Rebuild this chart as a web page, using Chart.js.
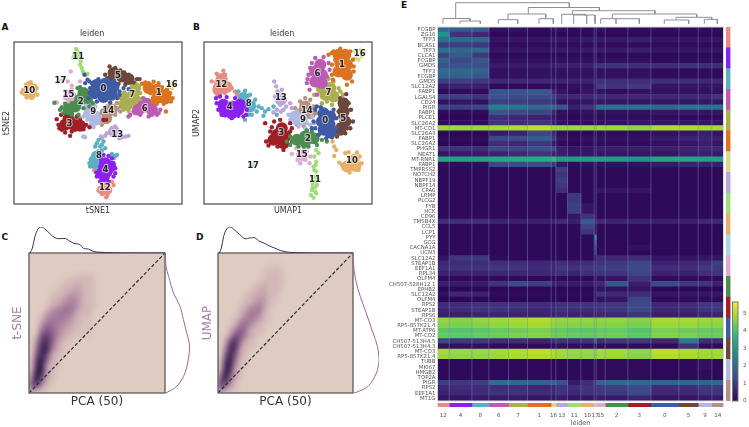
<!DOCTYPE html>
<html>
<head>
<meta charset="utf-8">
<title>leiden</title>
<script src="https://cdn.jsdelivr.net/npm/chart.js@4"></script>
<style>
html, body { margin: 0; padding: 0; background: #fff; overflow: hidden; }
#page { position: relative; width: 749px; height: 427px; }
#page canvas { position: absolute; left: 0; top: 0; filter: blur(0.4px); }
.letra { position: absolute; font: bold 9px "DejaVu Sans"; color: #111; }
.densidad { position: absolute; overflow: hidden; background: #dfcbc1; }
#page .densidad canvas { filter: blur(2.4px); }
</style>
</head>
<body>
<div id="page">
  <div class="letra" style="left:1.5px;top:22px">A</div>
  <div class="letra" style="left:193px;top:22px">B</div>
  <div class="letra" style="left:1.5px;top:232px">C</div>
  <div class="letra" style="left:196px;top:232px">D</div>
  <div class="letra" style="left:401px;top:0px">E</div>
</div>
<script>
const leidenColors = ["#3f5ba6","#dc7320","#4b8c50","#a01f26","#8c20ee","#6e463c","#bd5ab4","#aaaf52","#5aafc3","#b0b9e2",
                      "#e8af69","#a0dc78","#e68c82","#b9a5d7","#b49182","#e1aad2","#d7dc8c","#a5d7e6"]
const clusterNames = ["0","1","2","3","4","5","6","7","8","9","10","11","12","13","14","15","16","17"]

// embeddings, in crop units of the panel (x 42-545, y 127-612 going down)
const tsneCore = [
  [[290,255],[315,252],[340,260],[285,280],[310,280],[335,285],[310,292]],
  [[445,265],[470,270],[495,285],[470,295],[495,296]],
  [[250,280],[262,295],[240,300],[225,320],[205,328]],
  [[195,375],[220,375],[205,357],[240,378]],
  [[315,490],[320,515],[305,520],[330,500],[312,528]],
  [[340,220],[365,230],[385,238]],
  [[435,320],[415,330],[455,330],[440,312]],
  [[375,295],[400,285],[380,315],[410,305],[405,265]],
  [[285,488],[290,470]],
  [[270,345],[285,360],[268,322]],
  [[88,270],[87,278],[90,265]],
  [],
  [[315,565]],
  [[342,396]],
  [[315,340],[335,330],[318,355]],
  [[208,288]],
  [],
  []
]
const tsneEdge = [
  [[270,265],[268,280],[350,262],[358,275],[352,295],[295,238],[320,237],[290,305],[330,308],[262,240],[253,225],[255,250],[268,245],[370,265],[385,268],[275,250],[342,243],[358,285],[265,295]],
  [[425,252],[435,248],[460,246],[485,262],[510,280],[517,295],[512,305],[490,312],[470,312],[450,280],[435,268],[497,335],[445,250],[475,250],[500,270],[455,305]],
  [[240,262],[270,275],[283,290],[278,310],[180,330],[190,340],[235,345],[250,325],[163,309],[215,310],[232,265],[185,322],[215,345],[268,320],[195,312]],
  [[175,375],[170,358],[183,345],[215,342],[230,350],[258,375],[268,382],[250,388],[215,395],[195,398],[185,390],[210,408],[200,340],[225,390],[310,360],[318,360],[178,385],[240,362]],
  [[288,518],[290,530],[310,465],[325,468],[340,490],[345,520],[340,530],[300,545],[325,545],[300,500],[335,475],[303,478],[345,505]],
  [[328,200],[345,205],[315,225],[325,235],[360,212],[385,225],[410,238],[400,248],[375,255],[355,252],[418,238],[335,240],[372,218]],
  [[390,345],[400,335],[420,345],[445,350],[470,345],[480,330],[465,312],[430,296],[420,310],[385,350],[405,340],[475,340],[455,345]],
  [[358,290],[358,310],[370,330],[385,333],[420,280],[428,295],[405,250],[415,265],[390,270],[400,325],[372,278],[425,305],[395,262]],
  [[268,490],[272,478],[280,500],[270,500],[295,455],[300,440],[290,430],[310,425],[295,420],[315,445],[335,462],[345,468],[350,465],[340,475],[305,452],[278,470],[292,505],[305,435],[285,440]],
  [[255,340],[250,350],[262,360],[280,382],[295,370],[300,350],[270,310],[285,320],[250,410],[255,412],[290,340],[272,372],[262,322]],
  [[70,270],[65,278],[78,255],[92,247],[105,258],[110,265],[112,285],[100,290],[80,293],[95,295],[72,282],[105,275],[85,250]],
  [[228,148],[222,165],[235,175],[240,195],[248,215],[258,225],[232,155],[220,175],[245,205],[262,222],[228,165],[236,165],[228,175],[242,185],[252,222]],
  [[298,565],[300,575],[310,548],[335,545],[340,555],[330,570],[310,580],[318,592],[305,582],[282,510],[328,575],[295,572],[322,585]],
  [[305,415],[320,400],[335,385],[350,395],[345,405],[365,412],[385,408],[375,410],[330,395],[345,380],[355,400],[358,415],[315,408],[302,410],[250,411]],
  [[300,350],[298,365],[305,375],[320,320],[330,312],[350,310],[362,320],[360,335],[345,345],[325,350],[230,355],[228,358],[240,355],[352,325],[340,340]],
  [[200,275],[215,270],[222,285],[195,295],[205,305],[215,305],[220,298],[203,245],[212,215],[215,258],[240,245],[170,308]],
  [[505,262],[512,250],[520,255],[525,245],[515,265],[510,258]],
  [[180,248],[183,243]]
]
const tsneLabels = [[310,268],[475,278],[242,307],[208,372],[316,510],[353,228],[433,326],[396,286],[296,468],[279,337],[88,273],[234,170],[314,562],[351,404],[324,332],[205,284],[514,255],[181,243]]

const umapCore = [
  [[400,340],[420,350],[395,365],[418,375],[400,390],[420,398]],
  [[445,165],[465,165],[450,190],[470,195],[445,215],[470,225]],
  [[320,420],[345,410],[370,415],[345,425]],
  [[275,385],[260,405],[250,420],[285,410],[280,430]],
  [[100,315],[125,320],[145,330],[105,335],[125,340],[150,315]],
  [[460,310],[460,335],[465,365],[450,390]],
  [[390,195],[375,215],[395,225],[375,245],[395,250]],
  [[420,265],[405,285],[430,290],[395,265]],
  [[160,295],[180,320]],
  [[335,360],[315,350]],
  [[490,480],[470,500],[495,498]],
  [],
  [[90,250],[110,262],[85,270],[95,238]],
  [[272,300]],
  [[345,320],[360,340],[335,340]],
  [[335,465]],
  [],
  []
]
const umapEdge = [
  [[375,330],[380,320],[430,330],[438,355],[440,385],[375,385],[385,405],[408,415],[370,365],[365,385],[392,322],[425,412]],
  [[425,160],[415,165],[430,155],[450,147],[480,155],[488,180],[490,215],[485,245],[470,255],[425,225],[425,195],[435,180],[490,200],[428,240]],
  [[290,425],[300,410],[300,435],[325,440],[350,392],[365,395],[385,405],[395,420],[380,435],[355,440],[410,425],[305,425],[340,440]],
  [[252,365],[270,360],[300,370],[305,385],[240,395],[228,425],[235,437],[262,440],[280,450],[225,370],[300,395],[245,382]],
  [[78,295],[85,330],[95,345],[125,355],[168,345],[160,350],[135,295],[110,292],[90,290],[170,330],[80,310],[145,348]],
  [[450,295],[468,283],[475,310],[482,330],[488,365],[480,385],[465,400],[440,410],[425,410],[445,335],[445,375],[450,350],[430,400],[470,385]],
  [[375,175],[400,172],[415,190],[418,210],[410,230],[355,225],[350,250],[358,270],[380,285],[365,190],[360,205],[352,238]],
  [[415,237],[430,245],[445,265],[458,285],[445,300],[425,315],[395,310],[372,285],[385,270],[450,275],[410,305]],
  [[145,275],[165,273],[180,285],[195,300],[205,320],[215,325],[185,345],[165,360],[200,335],[220,348],[235,328],[225,335],[250,320],[260,345],[145,305],[175,305],[190,310],[175,345]],
  [[305,345],[300,360],[320,335],[345,335],[365,350],[370,370],[345,385],[325,380],[315,370],[360,375],[295,345],[350,370]],
  [[465,460],[475,457],[500,458],[508,470],[514,490],[505,510],[478,518],[455,495],[447,488],[432,440],[432,468],[438,450],[427,425]],
  [[378,450],[385,460],[372,470],[378,485],[370,500],[378,515],[370,530],[380,535],[368,550],[380,555],[365,570],[375,575],[362,585],[370,593],[378,580],[374,545],[374,562],[368,560],[372,510],[376,495]],
  [[80,222],[100,213],[105,225],[65,245],[75,260],[82,285],[105,280],[125,265],[135,275],[140,285],[95,235]],
  [[252,245],[258,260],[262,275],[255,290],[270,315],[285,300],[300,310],[305,325],[260,330],[272,335],[265,280],[275,270],[288,320],[250,338],[280,330]],
  [[330,305],[345,295],[360,300],[370,320],[378,340],[315,325],[310,350],[320,375],[372,370],[340,378]],
  [[318,445],[305,462],[322,480],[330,490],[345,480],[358,490],[350,455],[360,470],[345,445]],
  [[495,175],[502,165],[515,170],[520,155],[510,150],[493,155],[505,180]],
  [[188,498],[190,495]]
]
const umapLabels = [[405,364],[455,195],[353,416],[273,400],[119,321],[459,356],[382,222],[415,278],[176,313],[338,360],[485,484],[374,539],[94,255],[272,295],[350,332],[335,464],[508,162],[189,498]]

// density grids, top row first, columns left to right (missing values at the end of a row are 0)
const densidadC = [
  [],[],[],[],
  [0,0,0,0,0,0,0,0,0,.5,.7,.7,.7,.5],
  [0,0,0,0,0,0,0,.5,.7,1,1,1,1,.5],
  [0,0,0,0,0,0,.5,1,1,1.5,1.5,1,1,.5],
  [0,0,0,0,0,.5,1,1,1.5,2,2,1,1,.5],
  [0,0,0,0,.5,1,1,2,2.5,2.5,2,1,1,.5],
  [0,0,0,0,1,1,2,2.5,3,3,2,1,1,.5],
  [0,0,0,.5,1,2,2.5,3,3.5,3,2,1,1,.5],
  [0,0,0,1,2.5,3,3.5,4,3.5,2.5,1.5,1,1],
  [0,0,.5,2.5,3,3.5,3.5,3.5,3,2,1,1,.7],
  [0,0,1.5,3,3.5,3.5,3.5,3,2.5,1.5,1,.5,.5],
  [0,0,2.5,4,4,3.5,3,2.5,2,1,1,.5,.5],
  [0,.5,3.5,5,4.5,3.5,2.5,2,1.5,1,.5,.5,.5],
  [0,1,5,6,5,3.5,2.5,1.5,1,.5,.3,.3,.3],
  [0,2.5,6,7,5,3,1.5,1,.5,.3],
  [0,3.5,7,8,4.5,2.5,1,.5],
  [0,4,8,8,4,2,1,.5],
  [.5,5,8,6,2,1,.5],
  [1,6,9,5,2,1],
  [1,7,9,3,1,1],
  [2,8,9,3,1,.5],
  [3,9,7,2,1,.5],
  [4,9,5,2,1],
  [5,6,3,1,.5],
  [3,2,1,.5]
]
const densidadD = [
  [],[],
  [0,0,0,0,0,0,0,0,0,0,.3,.5,.5],
  [0,0,0,0,0,0,0,0,0,.5,.7,.7,.7,.5],
  [0,0,0,0,0,0,0,0,0,.5,1,1,1,.5],
  [0,0,0,0,0,0,0,0,.5,1,1,1,1,.5],
  [0,0,0,0,0,0,0,.5,1,1.5,1,1,1,.5],
  [0,0,0,0,0,0,.5,1,1.5,2,1,1,1],
  [0,0,0,0,0,.5,1,1.5,2,2,1,1,.5],
  [0,0,0,0,0,1,1,2,2.5,2.5,1,.5,.5],
  [0,0,0,0,.5,1,2,2.5,3.5,2,1,.5],
  [0,0,0,0,1,2,3,3.5,3.5,2,.5],
  [0,0,0,.5,1,2.5,3.5,3.5,3,1,.5],
  [0,0,0,1,2.5,3.5,3.5,3,2,1,.5],
  [0,0,.5,1.5,3.5,4,3,2,1,.5],
  [0,0,1.5,3.5,4.5,4,2,1,1,.5],
  [0,.5,2.5,5,5,3.5,2,1,.5],
  [0,1.5,5,7,4.5,2,1,.5],
  [0,2.5,7,7,3.5,1,1,.5],
  [0,3.5,8,6.5,2,1,.5],
  [0,5,8,5,2,1],
  [1,6,9,4,1,.5],
  [1,8,8,3,1,.5],
  [2,9,7,2,1],
  [4,9,5,2,1],
  [5,8,4,1,.5],
  [6,5,2,1],
  [3,2,1,.5]
]
const gridCols = [...Array(28).keys()]
const gridRows = [...Array(28).keys()]

// marginal curves: position along the plot (0-1), height of the curve (0-1)
const margenArribaC = [[.007,0],[.025,.19],[.044,.64],[.069,.94],[.093,1],[.118,.92],[.155,.74],[.192,.58],[.229,.55],[.265,.56],[.29,.49],[.327,.38],[.376,.32],[.4,.18],[.437,.15],[.474,.06],[.52,.03],[.62,.01],[.77,0],[1,0]]
const margenDerechaC = [[.01,1],[.04,.905],[.145,.833],[.34,.714],[.6,.619],[.737,.524],[.868,.429],[.97,.357],[.97,.286],[.8,.143],[.47,.048],[.08,.005],[0,0]]
const margenArribaD = [[.01,0],[.025,.19],[.042,.64],[.066,.94],[.091,1],[.115,.92],[.16,.71],[.2,.55],[.238,.58],[.275,.58],[.3,.47],[.35,.36],[.386,.26],[.42,.19],[.46,.1],[.52,.03],[.607,.01],[.73,0],[1,0]]
const margenDerechaD = [[0,1],[.04,.881],[.13,.786],[.28,.69],[.51,.571],[.77,.429],[.94,.333],[1,.238],[.9,.143],[.58,.048],[.13,.005],[.02,0]]

// heatmap
const leidenOrder = [12,4,8,6,7,1,16,13,11,10,17,15,2,3,0,5,9,14]
const leidenCells = [11.7,22.7,17,19.6,19,23.7,4.7,11.6,13.4,13.3,2,9,22.7,23,28,19.3,13.7,11.6]
const genes = ["FCGBP","ZG16","TFF3","BCAS1","TFF3","CLCA1","FCGBP","GMDS","TFF3","FCGBP","GMDS","SLC12A2",
  "FABP1","LGALS4","CD24","PIGR","FABP1","PLCE1","SLC26A2","MT-CO1","SLC26A3","FABP1","SLC26A2","PHGR1","NEAT1","MT-RNR1","FABP1",
  "TMPRSS2","NOTCH2","NBPF19","NBPF14","CPA6","LRMP","PLCG2","FYB","HCK","CD96","TMSB4X","CCL5","LCP1","PYY","GCG","CACNA1A","UCN3",
  "SLC12A2","STEAP1B","EEF1A1","RPL34","OLFM4","CH507-528H12.1","EPHB2","SLC12A2","OLFM4","RPS2","STEAP1B","RPS6",
  "MT-CO3","RP5-857K21.4","MT-ATP6","MT-CO2","CH507-513H4.5","CH507-513H4.3","MT-CO3","RP5-857K21.4","TUBB","MKI67","HMGB2","TOP2A","PIGR","RPS2","EEF1A1","MT1G"]
const heatValues = [
  [1.9,1.6,1.6,.2,.2,.1,.2,.2,.1,.1,.1,.2,.1,.1,.1,.1,.1,.1],
  [2.9,.9,.7,.05,.05,.05,.05,.05,.05,.05,.05,.05,.05,.05,.05,.05,.05,.05],
  [2.1,1.9,1.9,.3,.3,.3,.4,.4,.3,.4,.3,.4,.4,.5,.3,.3,.3,.3],
  [1.1,1.1,1,.1,.1,.1,.1,.1,.1,.1,.1,.1,.1,.1,.1,.1,.1,.1],
  [2.1,1.9,1.9,.3,.3,.3,.4,.4,.3,.4,.3,.4,.4,.5,.3,.3,.3,.3],
  [1.2,1.6,1,.05,.05,.05,.05,.05,.05,.05,.05,.05,.05,.05,.05,.05,.05,.05],
  [1.8,1.3,1.5,.2,.2,.2,.2,.2,.2,.2,.2,.2,.2,.2,.1,.1,.1,.1],
  [1.4,1.4,1.4,.4,.4,.4,.5,.6,.5,.5,.7,.9,.9,.8,.8,.9,.8,.8],
  [2,1.9,1.8,.2,.2,.2,.2,.2,.2,.2,.2,.2,.2,.2,.1,.1,.1,.1],
  [1.9,1.7,1.5,.2,.2,.2,.2,.2,.2,.2,.2,.2,.2,.2,.1,.1,.1,.1],
  [1.1,1.1,1,.7,.7,.7,.7,.6,.6,.6,.4,.9,.8,.8,.8,.8,.7,.7],
  [.4,.6,.5,.1,.1,.1,.2,.1,.2,.2,.2,1.1,.9,1,.3,.3,.3,.3],
  [.1,.1,.1,1.5,1.4,1.5,.7,.3,.1,.3,.1,.2,.1,.2,.2,.2,.2,.2],
  [1.1,1.1,.9,1.4,1.3,1.3,1.1,.7,.7,.7,.7,.8,.7,.7,.7,.7,.7,.9],
  [.2,.3,.2,1.1,1.1,1,.8,.2,.2,.3,.2,.3,.3,.3,.3,.3,.3,.3],
  [1.2,1.1,1.2,2.4,2.2,1.9,1.9,1.5,.5,.9,.9,2.1,2.1,2.1,1.9,2.2,2.1,2.2],
  [.1,.1,.1,1.5,1.3,1.2,.7,.2,.1,.2,.1,.2,.2,.2,.3,.4,.3,.3],
  [0,0,0,.8,.7,.6,.4,.1,0,.1,0,.1,.1,.1,.1,.1,.1,.1],
  [.1,.1,.1,.9,.8,.9,.5,.2,.1,.1,.1,.2,.2,.3,.3,.3,.3,.3],
  [4.8,4.8,4.8,4.9,5,5.1,4.9,4.8,4.8,4.8,4.8,4.9,4.8,4.7,5,5,4.9,4.9],
  [0,0,0,.4,.6,1.2,.7,.1,0,0,0,.1,.1,.1,.2,.3,.5,.3],
  [.1,.1,.1,1.3,1.3,1.6,1,.3,.1,.2,.1,.2,.2,.2,.4,.6,.6,.5],
  [0,0,0,.8,.7,1,.4,.1,0,.1,0,.1,.1,.1,.2,.3,.5,.3],
  [.9,.9,.8,1.3,1.2,1.4,1.3,.5,.3,.3,.3,.5,.5,.5,.5,.6,.7,.7],
  [.3,.4,.4,.6,.7,.9,.6,.5,.3,.3,.3,.3,.3,.3,.3,.5,.5,.4],
  [3.3,3.2,3.2,3.4,3.4,3.5,3.8,3.1,3.1,3.1,3.1,3.1,3,2.9,3.3,3.3,3.2,3.2],
  [.1,.1,.1,1.2,1.3,1.3,1,.3,.1,.2,.1,.2,.2,.2,.4,.6,.5,.5],
  [.05,.05,.05,.05,.05,.05,.05,1.1,.05,.05,.05,.05,.05,.05,.05,.05,.05,.05],
  [.05,.05,.05,.05,.05,.05,.05,.9,.05,.05,.05,.05,.05,.05,.05,.05,.05,.05],
  [.05,.05,.05,.05,.05,.05,.05,1.1,.05,.05,.05,.05,.05,.05,.05,.05,.05,.05],
  [.05,.05,.05,.05,.05,.05,.05,1,.05,.05,.05,.05,.05,.05,.05,.05,.05,.05],
  [.05,.05,.05,.05,.05,.05,.05,.8,.05,.05,.05,.3,.3,.3,.05,.05,.05,.05],
  [.05,.05,.05,.05,.05,.05,.05,.05,1,.05,.05,.05,.05,.05,.05,.05,.05,.05],
  [.05,.05,.05,.05,.05,.05,.05,.05,1,.05,.05,.05,.05,.05,.05,.05,.05,.05],
  [.05,.05,.05,.05,.05,.05,.05,.05,1.1,.3,.05,.05,.05,.05,.05,.05,.05,.05],
  [.05,.05,.05,.05,.05,.05,.05,.05,1.1,.3,.05,.05,.05,.05,.05,.05,.05,.05],
  [.05,.05,.05,.05,.05,.05,.05,.05,.3,.9,.05,.05,.05,.05,.05,.05,.05,.05],
  [.8,.8,.8,.6,.5,.5,.6,.7,.5,1.6,.5,.7,.6,.6,.5,.5,.7,.7],
  [.05,.05,.05,.05,.05,.05,.05,.05,.05,1.2,.05,.05,.05,.05,.05,.05,.05,.05],
  [.05,.05,.05,.05,.05,.05,.05,.05,.05,.9,.05,.05,.05,.05,.05,.05,.05,.05],
  [.05,.05,.05,.05,.05,.05,.05,.05,.05,.05,3,.05,.05,.05,.05,.05,.05,.05],
  [.05,.05,.05,.05,.05,.05,.05,.05,.05,.05,2,.05,.05,.05,.05,.05,.05,.05],
  [.05,.05,.05,.05,.05,.05,.05,.05,.05,.05,1.2,.05,.05,.2,.05,.05,.05,.05],
  [.05,.05,.05,.05,.05,.05,.05,.05,.05,.05,1,.05,.05,.05,.05,.05,.05,.05],
  [.3,1,1,.1,.05,.05,.05,.05,.05,.05,.05,.8,.7,.8,.3,.3,.3,.3],
  [.7,.8,.8,.8,.8,.7,.7,.8,.7,.8,.5,.9,1,1.2,.6,.7,.8,1.1],
  [.8,.9,.9,1,.9,.8,.7,1,.9,1,.5,1.1,1.1,1.3,.8,.8,1,1],
  [.6,.6,.6,.7,.7,.7,.7,.8,.6,.8,.4,.9,.9,1.2,.6,.6,.8,.9],
  [.05,.05,.05,.1,.1,.05,.05,.05,.05,.05,.05,.2,.3,.9,.1,.1,.1,.1],
  [.5,.4,.4,.9,1.3,1.1,.5,.5,.4,.4,.2,.7,1.5,.5,1.3,1,.9,.5],
  [0,0,0,0,0,0,0,0,0,0,0,.2,.2,.3,0,0,0,0],
  [.2,.7,.6,.1,.1,.1,.1,.1,.1,.1,.1,.9,.7,.8,.3,.3,.3,.3],
  [0,0,0,0,0,0,0,0,0,0,0,.2,.3,1.2,.1,.1,.1,.1],
  [.8,.8,.9,.9,.9,.8,.7,.9,.9,.9,.5,1,1,1.3,.7,.8,1,1],
  [.6,.8,.9,.9,.8,.7,.7,.9,.8,.8,.6,.9,1,1.3,.7,.7,.9,1],
  [.5,.5,.6,.6,.6,.6,.5,.7,.6,.6,.3,.7,.7,.9,.5,.5,.6,.6],
  [4.7,4.6,4.7,4.8,4.9,5,4.8,4.7,4.7,4.7,4.7,4.7,4.7,4.6,4.9,4.9,4.8,4.8],
  [4.6,4.5,4.6,4.7,4.8,4.9,4.7,4.6,4.6,4.6,4.6,4.6,4.6,4.5,4.8,4.8,4.7,4.7],
  [4.2,4.1,4.2,4.3,4.4,4.5,4.3,4.3,4.2,4.2,4.2,4.3,4.3,4.1,4.5,4.4,4.3,4.3],
  [4.3,4.2,4.3,4.4,4.5,4.6,4.4,4.4,4.3,4.3,4.3,4.4,4.4,4.2,4.6,4.5,4.4,4.4],
  [1.2,1,1,.8,.8,.6,.8,.9,.8,.9,1.8,.8,1,1,.7,2.3,.8,.8],
  [.2,.2,.2,.1,.1,.1,.1,.2,.1,.1,.2,.1,.1,.1,.1,.9,.1,.1],
  [4.9,4.8,4.8,4.9,5,5.1,5,4.9,4.8,4.8,4.8,4.9,4.9,4.7,5.1,5,4.9,4.9],
  [4.8,4.7,4.7,4.8,4.9,5,4.9,4.8,4.7,4.7,4.7,4.8,4.8,4.6,5,4.9,4.8,4.8],
  [.05,.05,.05,.05,.05,.05,.05,.05,.05,.05,.05,.1,.1,.1,.05,.05,.2,.05],
  [.05,.05,.05,.05,.05,.05,.05,.05,.05,.05,.05,.1,.1,.1,.05,.05,.2,.05],
  [.05,.05,.05,.05,.05,.05,.05,.05,.05,.05,.05,.1,.1,.1,.05,.05,.1,.05],
  [.05,.05,.05,.05,.05,.05,.05,.05,.05,.05,.05,.1,.1,.1,.05,.05,.1,.05],
  [1.1,1,1.1,2,1.9,1.7,1.7,1.4,.4,.8,.8,1.8,1.9,1.9,1.8,1.9,1.8,1.9],
  [.7,.8,.8,.8,.8,.7,.7,.9,.8,.9,.5,1,1.1,1.3,.8,.8,1,1],
  [.6,.7,.8,.9,.9,.8,.7,.9,.7,.9,.5,1,1,1.3,.7,.7,.9,.9],
  [.3,.3,.4,.4,.4,.3,.3,.4,.3,.3,.2,.4,.4,.6,.3,.3,.4,.4]
]
const stripSpans = leidenOrder.map(() => 1)
const colorbarRange = [[0, 5.65]]
const colorbarLabels = ["value"]

// dendrogram brackets: left x, left foot, right x, right foot, top (x in cell units, height above the heatmap)
const dendroLinks = [
  [18.2,8.7,131.8,19.5,24.3],[5.5,3.3,32.5,6,8.5],[22.5,3.3,42.8,3.3,6],
  [90.8,13,161.8,16.3,19.5],[70.5,7.3,108.2,8.3,13],[60.8,3.3,80.2,3.3,7.3],[101.5,3.3,115.8,3.3,8.3],
  [134.8,12.7,217.5,13,16.3],[124.2,3.3,147.5,11.7,12.7],[136.2,3.3,157.5,3.3,12],[149.2,3.3,149.2,3.3,12],
  [174.8,8.3,259.2,9.7,13],[163.2,3.3,201.8,3.3,8.3],[178.5,3.3,178.5,3.3,8.3],
  [238.5,7,274.2,7.7,9.7],[226.8,3.3,251.2,3.3,7],[266.8,3.3,279.8,3.3,7.7]
]

const W = 749, H = 427
const fuente = '"DejaVu Sans"'
const page = document.getElementById("page")
const cellTotal = leidenCells.reduce((a, b) => a + b, 0)

function nuevoCanvas(padre, w, h) {
    const c = document.createElement("canvas")
    c.width = w
    c.height = h
    c.style.width = w + "px"
    c.style.height = h + "px"
    padre.appendChild(c)
    return c
}

function mezcla(stops, t) {
    for (let i = 1; i < stops.length; i++) {
        if (t <= stops[i][0]) {
            const a = stops[i - 1], b = stops[i]
            const f = (t - a[0]) / (b[0] - a[0])
            return `rgb(${[1, 2, 3].map(k => Math.round(a[k] + (b[k] - a[k]) * f)).join(",")})`
        }
    }
    const u = stops[stops.length - 1]
    return `rgb(${u[1]},${u[2]},${u[3]})`
}
const viridisStops = [[0,46,8,88],[.13,66,40,120],[.25,59,82,139],[.38,44,114,142],[.5,33,145,140],[.63,40,174,128],[.75,94,201,98],[.88,173,220,48],[1,253,231,37]]
const viridis = v => mezcla(viridisStops, Math.max(0, v) / 5.65)
const cubeStops = [[0,223,203,193],[2,198,162,174],[4,152,107,147],[6,100,62,112],[9,40,25,65]]

// padding so the chart area lands on the wanted rectangle of the page
function padding(r, axisH, axisW, titleH) {
    return { left: r.x0 - axisW, right: W - r.x1, top: r.y0 - titleH, bottom: H - r.y1 - axisH }
}

function ejeTitulo(text, size, color, fit, prop) {
    return {
        display: true,
        ticks: { display: false },
        grid: { display: false },
        border: { display: false },
        title: { display: true, text: text, color: color, padding: 0, font: { family: fuente, size: size } },
        afterFit: s => { s[prop] = fit }
    }
}

const marco = {
    id: "marco",
    afterDraw(chart, args, opts) {
        const a = chart.chartArea, c = chart.ctx
        c.save()
        c.strokeStyle = opts.color
        c.lineWidth = opts.width
        c.strokeRect(a.left, a.top, a.right - a.left, a.bottom - a.top)
        c.restore()
    }
}

const etiquetasCluster = {
    id: "etiquetasCluster",
    afterDatasetsDraw(chart, args, opts) {
        const c = chart.ctx
        c.save()
        c.font = `bold 8.5px ${fuente}`
        c.textAlign = "center"
        c.textBaseline = "middle"
        opts.pos.forEach((p, i) => {
            const x = chart.scales.x.getPixelForValue(p[0])
            const y = chart.scales.y.getPixelForValue(p[1])
            c.lineWidth = 2
            c.strokeStyle = "rgba(255,255,255,0.6)"
            c.strokeText(clusterNames[i], x, y)
            c.fillStyle = "#222"
            c.fillText(clusterNames[i], x, y)
        })
        c.restore()
    }
}

function embedding(r, core, edge, labels, xName, yName) {
    const datasets = []
    core.forEach((pts, i) => {
        datasets.push({ data: pts.map(p => ({ x: p[0], y: p[1] })), pointRadius: 6, backgroundColor: leidenColors[i], borderWidth: 0 })
        datasets.push({ data: edge[i].map(p => ({ x: p[0], y: p[1] })), pointRadius: 2.2, backgroundColor: leidenColors[i], borderWidth: 0 })
    })
    new Chart(nuevoCanvas(page, W, H), {
        type: "scatter",
        data: { datasets },
        plugins: [marco, etiquetasCluster],
        options: {
            responsive: false, animation: false, events: [],
            layout: { padding: padding(r, 11.8, 11.8, 12.6) },
            plugins: {
                legend: { display: false }, tooltip: { enabled: false },
                title: { display: true, text: "leiden", color: "#333", padding: { top: 0, bottom: 3 }, font: { family: fuente, size: 8, weight: "normal" } },
                marco: { color: "#4a4a4a", width: 1.2 },
                etiquetasCluster: { pos: labels }
            },
            scales: {
                x: Object.assign(ejeTitulo(xName, 8, "#333", 11.8, "height"), { type: "linear", min: 42, max: 545 }),
                y: Object.assign(ejeTitulo(yName, 8, "#333", 11.8, "width"), { type: "linear", min: 127, max: 612, reverse: true })
            }
        }
    })
}

function densidad(r, grid) {
    const box = document.createElement("div")
    box.className = "densidad"
    box.style.left = r.x0 + "px"
    box.style.top = r.y0 + "px"
    box.style.width = (r.x1 - r.x0) + "px"
    box.style.height = (r.y1 - r.y0) + "px"
    page.appendChild(box)
    new Chart(nuevoCanvas(box, Math.round(r.x1 - r.x0), Math.round(r.y1 - r.y0)), {
        type: "bar",
        data: {
            labels: gridRows,
            datasets: gridCols.map(j => ({
                data: gridRows.map(() => 1),
                backgroundColor: ctx => mezcla(cubeStops, grid[ctx.dataIndex][j] || 0),
                barPercentage: 1, categoryPercentage: 1
            }))
        },
        options: {
            indexAxis: "y", responsive: false, animation: false, events: [],
            plugins: { legend: { display: false }, tooltip: { enabled: false } },
            scales: {
                x: { stacked: true, display: false, min: 0, max: gridCols.length },
                y: { stacked: true, display: false }
            }
        }
    })
}

function densidadMarco(r, yName, axisW) {
    new Chart(nuevoCanvas(page, W, H), {
        type: "scatter",
        data: { datasets: [{ data: [{ x: 0, y: 0 }, { x: 1, y: 1 }], showLine: true, borderColor: "#2a2a40", borderWidth: 1.2, borderDash: [3.5, 2], pointRadius: 0 }] },
        plugins: [marco],
        options: {
            responsive: false, animation: false, events: [],
            layout: { padding: padding(r, 16.2, axisW, 0) },
            plugins: { legend: { display: false }, tooltip: { enabled: false }, marco: { color: "#5e5a5a", width: 1.3 } },
            scales: {
                x: Object.assign(ejeTitulo("PCA (50)", 12, "#333", 16.2, "height"), { type: "linear", min: 0, max: 1 }),
                y: Object.assign(ejeTitulo(yName, 12, "#ab7d9b", axisW, "width"), { type: "linear", min: 0, max: 1 })
            }
        }
    })
}

function margen(r, puntos, color) {
    const data = puntos.map(p => ({ x: p[0], y: p[1] }))
    new Chart(nuevoCanvas(page, W, H), {
        type: "scatter",
        data: { datasets: [{ data, showLine: true, tension: 0.35, borderColor: color, borderWidth: 1, pointRadius: 0 }] },
        options: {
            responsive: false, animation: false, events: [],
            layout: { padding: padding(r, 0, 0, 0) },
            plugins: { legend: { display: false }, tooltip: { enabled: false } },
            scales: {
                x: { type: "linear", display: false, min: 0, max: 1 },
                y: { type: "linear", display: false, min: 0, max: 1 }
            }
        }
    })
}

function heatmap(r) {
    new Chart(nuevoCanvas(page, W, H), {
        type: "bar",
        data: {
            labels: genes,
            datasets: leidenOrder.map((c, j) => ({
                label: String(c),
                data: genes.map(() => leidenCells[j]),
                backgroundColor: ctx => viridis(heatValues[ctx.dataIndex][j]),
                barPercentage: 1, categoryPercentage: 1
            }))
        },
        plugins: [{
            id: "divisiones",
            afterDatasetsDraw(chart) {
                const c = chart.ctx, a = chart.chartArea
                let acum = 0
                c.save()
                c.strokeStyle = "rgba(125,135,190,0.45)"
                c.lineWidth = 1
                leidenCells.slice(0, -1).forEach(w => {
                    acum += w
                    const x = chart.scales.x.getPixelForValue(acum)
                    c.beginPath()
                    c.moveTo(x, a.top)
                    c.lineTo(x, a.bottom)
                    c.stroke()
                })
                c.restore()
            }
        }, marco],
        options: {
            indexAxis: "y", responsive: false, animation: false, events: [],
            layout: { padding: padding(r, 0, 52, 0) },
            plugins: { legend: { display: false }, tooltip: { enabled: false }, marco: { color: "#d8d8d8", width: 1 } },
            scales: {
                x: { stacked: true, display: false, min: 0, max: cellTotal },
                y: {
                    stacked: true,
                    grid: { display: false, drawTicks: false },
                    border: { display: false },
                    ticks: { autoSkip: false, padding: 2, color: "#555", font: { family: fuente, size: 5.4 } },
                    afterFit: s => { s.width = 52 }
                }
            }
        }
    })
}

function dendrograma(r) {
    new Chart(nuevoCanvas(page, W, H), {
        type: "scatter",
        data: {
            datasets: dendroLinks.map(l => ({
                data: [{ x: l[0], y: l[1] }, { x: l[0], y: l[4] }, { x: l[2], y: l[4] }, { x: l[2], y: l[3] }],
                showLine: true, borderColor: "#8f8f8f", borderWidth: 1, pointRadius: 0
            }))
        },
        options: {
            responsive: false, animation: false, events: [],
            layout: { padding: padding(r, 0, 0, 0) },
            plugins: { legend: { display: false }, tooltip: { enabled: false } },
            scales: {
                x: { type: "linear", display: false, min: 0, max: cellTotal },
                y: { type: "linear", display: false, min: 0, max: 27 }
            }
        }
    })
}

function tiraAbajo(r) {
    let acum = 0
    const centros = leidenCells.map(w => { acum += w; return acum - w / 2 })
    new Chart(nuevoCanvas(page, W, H), {
        type: "bar",
        data: {
            labels: ["leiden"],
            datasets: leidenOrder.map((c, j) => ({
                label: String(c), data: [leidenCells[j]],
                backgroundColor: leidenColors[c], barPercentage: 1, categoryPercentage: 1
            }))
        },
        options: {
            indexAxis: "y", responsive: false, animation: false, events: [],
            layout: { padding: padding(r, 20, 0, 0) },
            plugins: { legend: { display: false }, tooltip: { enabled: false } },
            scales: {
                x: {
                    stacked: true, min: 0, max: cellTotal,
                    grid: { display: false, drawTicks: false },
                    border: { display: false },
                    afterBuildTicks: s => { s.ticks = centros.map(v => ({ value: v })) },
                    ticks: {
                        autoSkip: false, maxRotation: 0, padding: 5, color: "#555",
                        font: { family: fuente, size: 5.6 },
                        callback: (v, i) => String(leidenOrder[i])
                    },
                    title: { display: true, text: "leiden", color: "#555", padding: 0, font: { family: fuente, size: 6.5 } },
                    afterFit: s => { s.height = 20 }
                },
                y: { stacked: true, display: false }
            }
        }
    })
}

function tiraDerecha(r) {
    new Chart(nuevoCanvas(page, W, H), {
        type: "bar",
        data: {
            labels: leidenOrder.map(String),
            datasets: [{
                data: stripSpans,
                backgroundColor: leidenOrder.map(c => leidenColors[c]),
                barPercentage: 1, categoryPercentage: 1
            }]
        },
        options: {
            indexAxis: "y", responsive: false, animation: false, events: [],
            layout: { padding: padding(r, 0, 0, 0) },
            plugins: { legend: { display: false }, tooltip: { enabled: false } },
            scales: {
                x: { display: false, min: 0, max: 1 },
                y: { display: false }
            }
        }
    })
}

function barraColor(r) {
    new Chart(nuevoCanvas(page, W, H), {
        type: "bar",
        data: {
            labels: colorbarLabels,
            datasets: [{
                data: colorbarRange,
                barPercentage: 1, categoryPercentage: 1,
                backgroundColor: ctx => {
                    const a = ctx.chart.chartArea
                    if (!a) return "#21918c"
                    const g = ctx.chart.ctx.createLinearGradient(0, a.bottom, 0, a.top)
                    viridisStops.forEach(s => g.addColorStop(s[0], `rgb(${s[1]},${s[2]},${s[3]})`))
                    return g
                }
            }]
        },
        plugins: [marco],
        options: {
            responsive: false, animation: false, events: [],
            layout: { padding: { left: r.x0, right: W - r.x1 - 11, top: r.y0, bottom: H - r.y1 } },
            plugins: { legend: { display: false }, tooltip: { enabled: false }, marco: { color: "#777", width: 1 } },
            scales: {
                x: { display: false },
                y: {
                    position: "right", min: 0, max: 5.65,
                    grid: { display: false, tickLength: 2 },
                    border: { display: false },
                    ticks: { stepSize: 1, includeBounds: false, padding: 3, color: "#555", font: { family: fuente, size: 5.6 } },
                    afterFit: s => { s.width = 11 }
                }
            }
        }
    })
}

const rectA = { x0: 14, x1: 182, y0: 42, y1: 204 }
const rectB = { x0: 204, x1: 372, y0: 42, y1: 204 }
const rectC = { x0: 29, x1: 165, y0: 253, y1: 393 }
const rectD = { x0: 218, x1: 353, y0: 253, y1: 393 }
const rectE = { x0: 437.5, x1: 723.5, y0: 27, y1: 401 }

embedding(rectA, tsneCore, tsneEdge, tsneLabels, "tSNE1", "tSNE2")
embedding(rectB, umapCore, umapEdge, umapLabels, "UMAP1", "UMAP2")

densidad(rectC, densidadC)
densidad(rectD, densidadD)
densidadMarco(rectC, "t-SNE", 18.2)
densidadMarco(rectD, "UMAP", 16.9)
margen({ x0: 29, x1: 165, y0: 227, y1: 253 }, margenArribaC, "#3b2c58")
margen({ x0: 165, x1: 190, y0: 253, y1: 393 }, margenDerechaC, "#a0668f")
margen({ x0: 218, x1: 353, y0: 227, y1: 253 }, margenArribaD, "#3b2c58")
margen({ x0: 353, x1: 379, y0: 253, y1: 393 }, margenDerechaD, "#a0668f")

dendrograma({ x0: 437.5, x1: 723.5, y0: 0, y1: 27 })
heatmap(rectE)
tiraAbajo({ x0: 437.5, x1: 723.5, y0: 403, y1: 407 })
tiraDerecha({ x0: 726, x1: 730.5, y0: 27, y1: 401 })
barraColor({ x0: 732.5, x1: 738, y0: 302, y1: 401 })
</script>
</body>
</html>
